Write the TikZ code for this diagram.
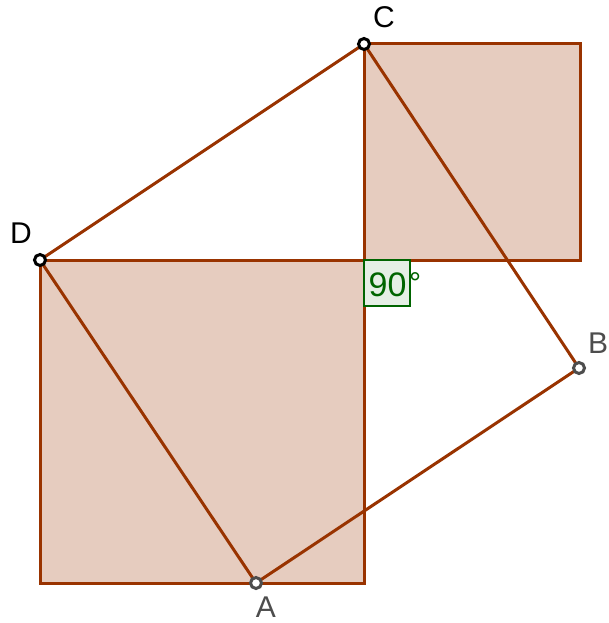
\documentclass[tikz,border=0pt]{standalone}
\usepackage{fontspec}
\setmainfont{Liberation Sans}
\definecolor{edge}{RGB}{153,51,0}
\definecolor{sqfill}{RGB}{230,204,191}
\definecolor{angfill}{RGB}{229,239,229}
\definecolor{angline}{RGB}{0,100,0}
\definecolor{ptgray}{RGB}{77,77,77}
\tikzset{
  sq/.style={draw=edge, fill=sqfill, line width=3pt},
  seg/.style={draw=edge, line width=3pt},
  ptblack/.style={circle, draw=black, fill=white, line width=3pt, minimum size=11pt, inner sep=0pt},
  ptgrey/.style={circle, draw=ptgray, fill=white, line width=3pt, minimum size=11pt, inner sep=0pt},
  lbl/.style={font=\fontsize{30}{30}\selectfont, inner sep=0pt}
}
\begin{document}
\begin{tikzpicture}[x=1pt,y=-1pt]
\useasboundingbox (0,0) rectangle (608,623);
% squares
\path[sq] (40,260) rectangle (364,583);
\path[sq] (364,44) rectangle (580,260);
% angle mark
\path[draw=angline, fill=angfill, line width=2.6pt] (364,260) rectangle (410,306);
\node[font=\fontsize{34}{34}\selectfont, text=angline, inner sep=0pt] (ang) at (387.5,285) {90};
\node[font=\fontsize{30}{30}\selectfont, text=angline, inner sep=0pt] (deg) at (415,283) {°};
% points
\coordinate (Cc) at (364,44);
\coordinate (Dc) at (40,260);
\coordinate (Ac) at (256,583);
\coordinate (Bc) at (579,368);
\draw[seg] (Cc) -- (Dc) -- (Ac) -- (Bc) -- cycle;
\node[ptblack] (C) at (Cc) {};
\node[ptblack] (D) at (Dc) {};
\node[ptgrey] (A) at (Ac) {};
\node[ptgrey] (B) at (Bc) {};
\node[lbl, text=black] (lC) at (384,17) {C};
\node[lbl, text=black] (lD) at (21,233) {D};
\node[lbl, text=ptgray] (lA) at (266,607) {A};
\node[lbl, text=ptgray] (lB) at (598,343) {B};
\end{tikzpicture}
\end{document}
